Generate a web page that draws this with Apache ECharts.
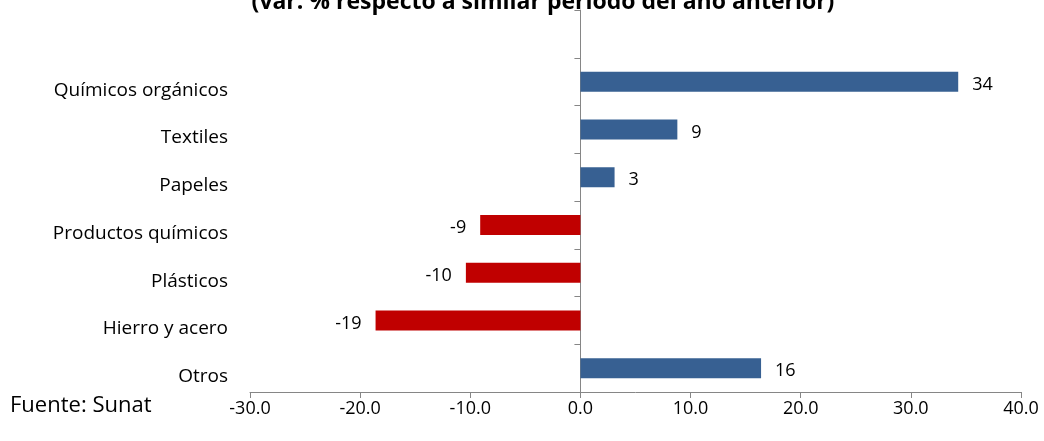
<!DOCTYPE html>
<html><head><meta charset="utf-8">
<script src="https://cdn.jsdelivr.net/npm/echarts@6/dist/echarts.min.js"></script>
<style>html,body{margin:0;padding:0;background:#fff}#c{width:1044px;height:441px}</style>
</head><body><div id="c"></div>
<script>
const categories = ["", "Químicos orgánicos", "Textiles", "Papeles", "Productos químicos", "Plásticos", "Hierro y acero", "Otros"];
const values = [null, 34.3, 8.8, 3.1, -9.1, -10.4, -18.6, 16.4];
const valueLabels = ["", "34", "9", "3", "-9", "-10", "-19", "16"];
const xTicks = [-30, 40, 10];
const font = "Open Sans";
const chart = echarts.init(document.getElementById('c'));
chart.setOption({
  animation: false,
  title: {
    text: "(var. % respecto a similar período del año anterior)",
    left: 538, textAlign: 'center', top: -14,
    textStyle: { fontFamily: font, fontWeight: 'bold', fontSize: 23, color: '#000' }
  },
  graphic: [{
    type: 'text', left: 10, top: 395,
    style: { text: 'Fuente: Sunat', fontFamily: font, fontSize: 22, fill: '#000' }
  }],
  grid: { left: 250, right: 23, top: 10, bottom: 49, containLabel: false },
  xAxis: {
    type: 'value', min: xTicks[0], max: xTicks[1], interval: xTicks[2],
    splitLine: { show: false },
    axisLine: { show: true, onZero: false, lineStyle: { color: '#868686', width: 1 } },
    axisTick: { show: true, length: 6, lineStyle: { color: '#868686' } },
    axisLabel: { margin: 8, fontFamily: font, fontSize: 18, color: '#000', formatter: v => v.toFixed(1) }
  },
  yAxis: [{
    type: 'category', data: categories, inverse: true, position: 'left',
    axisLine: { show: false, onZero: false }, axisTick: { show: false },
    axisLabel: { margin: 22, fontFamily: font, fontSize: 19, color: '#000', verticalAlign: 'top', lineHeight: 17 }
  }, {
    type: 'category', data: categories, inverse: true, position: 'right',
    axisLine: { show: true, onZero: true, lineStyle: { color: '#868686', width: 1 } },
    axisTick: { show: true, inside: true, length: 6, lineStyle: { color: '#868686' } },
    axisLabel: { show: false }
  }],
  series: [{
    type: 'bar', yAxisIndex: 0, barWidth: 20,
    data: values.map(v => v == null ? v : ({
      value: v,
      itemStyle: { color: v >= 0 ? '#376092' : '#C00000' },
      label: { position: v < 0 ? 'left' : 'right' }
    })),
    label: {
      show: true, distance: 14, offset: [0, 3],
      fontFamily: font, fontSize: 18, color: '#000',
      formatter: p => valueLabels[p.dataIndex]
    }
  }]
});
</script></body></html>
